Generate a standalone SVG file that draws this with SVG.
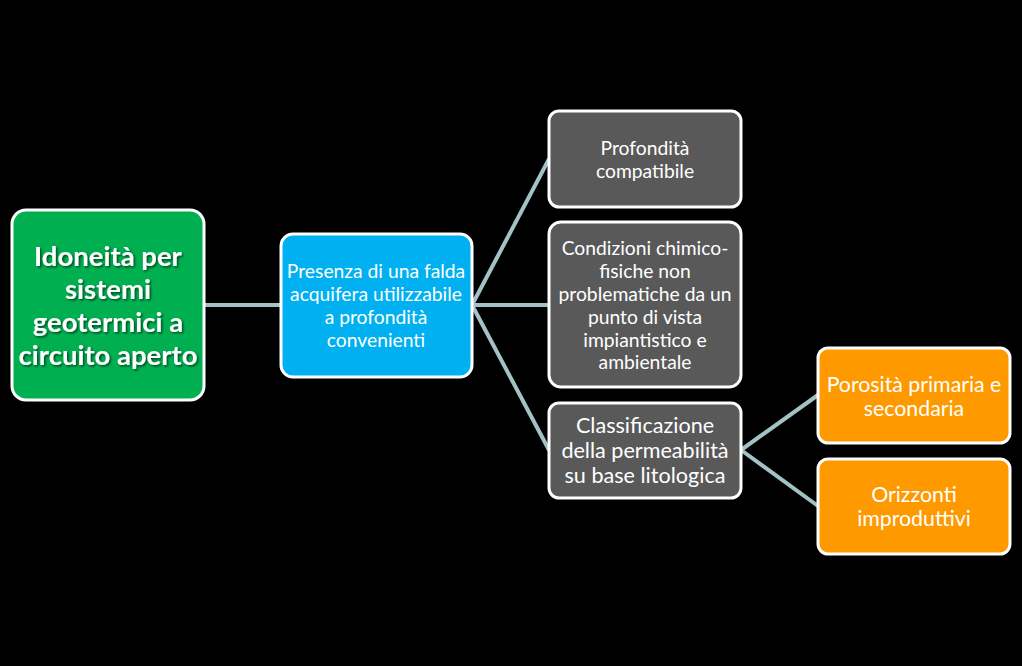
<svg xmlns="http://www.w3.org/2000/svg" width="1022" height="666" viewBox="0 0 1022 666">
<defs>
<style>
.box{stroke:#ffffff;stroke-width:3}
.t{font-family:Lato,"Open Sans","Liberation Sans",sans-serif;fill:#ffffff;text-anchor:middle}
.s16{font-size:19.3px}
.s19{font-size:21.6px}
.s18{font-size:21.3px}
.big{font-size:27.5px;font-weight:bold}
.conn{stroke:#a3c2c6;stroke-width:4;fill:none}
</style>
<filter id="sh" x="-10%" y="-10%" width="130%" height="130%">
<feDropShadow dx="1.5" dy="1.5" stdDeviation="0.8" flood-color="#000000" flood-opacity="0.6"/>
</filter>
</defs>
<rect width="1022" height="666" fill="#000000"/>
<g id="connectors">
<line class="conn" x1="204" y1="305" x2="281" y2="305"/>
<line class="conn" x1="472" y1="305" x2="549" y2="159"/>
<line class="conn" x1="472" y1="305" x2="549" y2="305"/>
<line class="conn" x1="472" y1="305" x2="549" y2="450"/>
<line class="conn" x1="741" y1="450" x2="818" y2="395"/>
<line class="conn" x1="741" y1="450" x2="818" y2="506"/>
</g>
<g id="n1">
<rect class="box" x="12" y="210" width="192" height="190" rx="14" fill="#00b050"/>
<g class="t big" filter="url(#sh)">
<text x="108" y="266">Idoneità per</text>
<text x="108" y="299">sistemi</text>
<text x="108" y="332">geotermici a</text>
<text x="108" y="365">circuito aperto</text>
</g>
</g>
<g id="n2">
<rect class="box" x="281" y="234" width="191" height="143" rx="12" fill="#00b0f0"/>
<text class="t s16" x="376" y="278">Presenza di una falda</text>
<text class="t s16" x="376" y="301">acquifera utilizzabile</text>
<text class="t s16" x="376" y="324">a profondità</text>
<text class="t s16" x="376" y="347">convenienti</text>
</g>
<g id="n3">
<rect class="box" x="549" y="111" width="192" height="96" rx="10" fill="#595959"/>
<text class="t s16" x="645" y="155">Profondità</text>
<text class="t s16" x="645" y="178">compatibile</text>
</g>
<g id="n4">
<rect class="box" x="549" y="222" width="192" height="165" rx="12" fill="#595959"/>
<text class="t s16" x="645" y="255">Condizioni chimico-</text>
<text class="t s16" x="645" y="278">fisiche non</text>
<text class="t s16" x="645" y="301">problematiche da un</text>
<text class="t s16" x="645" y="324">punto di vista</text>
<text class="t s16" x="645" y="347">impiantistico e</text>
<text class="t s16" x="645" y="369">ambientale</text>
</g>
<g id="n5">
<rect class="box" x="549" y="403" width="192" height="95" rx="10" fill="#595959"/>
<text class="t s19" x="645" y="433">Classificazione</text>
<text class="t s19" x="645" y="458">della permeabilità</text>
<text class="t s19" x="645" y="483">su base litologica</text>
</g>
<g id="n6">
<rect class="box" x="818" y="348" width="192" height="95" rx="10" fill="#ff9900"/>
<text class="t s18" x="914" y="392">Porosità primaria e</text>
<text class="t s18" x="914" y="416">secondaria</text>
</g>
<g id="n7">
<rect class="box" x="818" y="459" width="192" height="95" rx="10" fill="#ff9900"/>
<text class="t s18" x="914" y="502">Orizzonti</text>
<text class="t s18" x="914" y="526">improduttivi</text>
</g>
</svg>
